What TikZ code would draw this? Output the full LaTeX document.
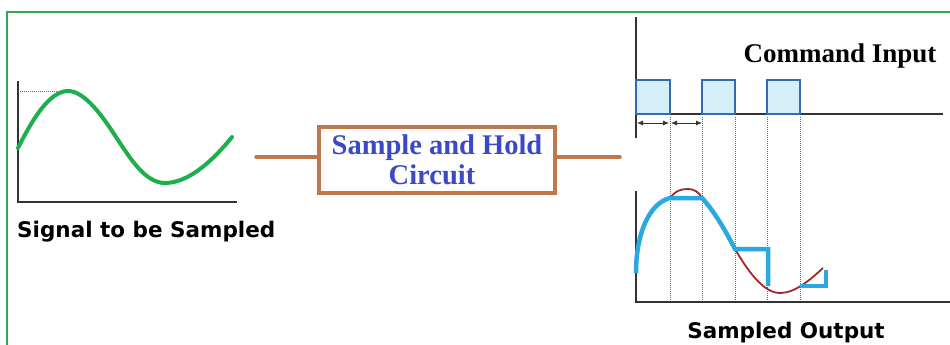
\documentclass[tikz,border=0pt]{standalone}
\usepackage{fontspec}
\newfontfamily\vsans{DejaVu Sans}
\newfontfamily\tserif{Liberation Serif}
\usetikzlibrary{arrows.meta}
\definecolor{framegreen}{HTML}{2FA84F}
\definecolor{sinegreen}{HTML}{1DAF4B}
\definecolor{boxbrown}{HTML}{C0784A}
\definecolor{textblue}{HTML}{3B49C9}
\definecolor{pulseblue}{HTML}{2E6DB4}
\definecolor{pulsefill}{HTML}{D6EEF8}
\definecolor{outblue}{HTML}{2AA9E0}
\definecolor{sinered}{HTML}{A0282A}
\definecolor{axisgray}{HTML}{333333}
\begin{document}
\begin{tikzpicture}[x=1pt,y=-1pt,
  frameline/.style={draw=framegreen,line width=1.2pt},
  axisline/.style={draw=axisgray,line width=2pt},
  guide/.style={draw=gray!80!black,densely dotted,line width=1pt},
  pulsebox/.style={draw=pulseblue,fill=pulsefill,line width=2.8pt},
  spacing/.style={draw=axisgray,line width=0.8pt,{Latex[length=6pt,width=5pt]}-{Latex[length=6pt,width=5pt]}},
  wire/.style={draw=boxbrown,line width=3.5pt},
  shbox/.style={draw=boxbrown,line width=3.5pt,minimum width=236pt,minimum height=66pt,inner sep=0pt,
    align=center,text=textblue,font=\tserif\bfseries\fontsize{28.5}{30}\selectfont},
  lbl/.style={inner sep=0pt,font=\vsans\bfseries\fontsize{21.5}{24}\selectfont},
  serlbl/.style={inner sep=0pt,font=\tserif\bfseries\fontsize{27}{30}\selectfont}]
\useasboundingbox (0,0) rectangle (950,345);
\fill[white] (0,0) rectangle (950,345);
% frame
\draw[frameline] (7,345) -- (7,12) -- (950,12);
% left plot
\draw[axisline] (18,81) -- (18,202) -- (237,202);
\draw[guide] (18,91) -- (68,91);
\draw[sinegreen,line width=4pt,line cap=round]
  (18,148) .. controls (33,118) and (50,91) .. (68,91)
  .. controls (85,91) and (103,117) .. (116,137)
  .. controls (130,158) and (145,183) .. (165,183)
  .. controls (190,183) and (215,158) .. (232,137);
\node[lbl,anchor=base west] (sig) at (17,237) {Signal to be Sampled};
% sample and hold box
\node[shbox] (sh) at (437,160) {Sample and Hold\\Circuit\hspace*{10pt}};
\coordinate (inL) at (256,157);
\coordinate (outR) at (620,157);
\draw[wire,line cap=round] (inL) -- (inL -| sh.west);
\draw[wire,line cap=round] (sh.east |- outR) -- (outR);
% command input plot
\draw[axisline] (636,17) -- (636,138);
\draw[axisline] (636,114) -- (943,114);
\foreach \a/\b in {636/670,702/735,767/800}
  \draw[pulsebox] (\a,114) rectangle (\b,80);
\draw[spacing] (637,123) -- (669,123);
\draw[spacing] (671,123) -- (702,123);
\foreach \x in {670,702,735,767,800}
  \draw[guide] (\x,117) -- (\x,302);
\node[serlbl,anchor=base] (cmd) at (840,63) {Command Input};
% sampled output plot
\draw[axisline] (636,191) -- (636,302) -- (950,302);
\draw[sinered,line width=1.8pt]
  (670,198) .. controls (676,190) and (682,189) .. (688,189)
  .. controls (694,189) and (699,192) .. (702,198)
  .. controls (715,212) and (726,232) .. (735,249)
  .. controls (750,275) and (765,293) .. (780,293)
  .. controls (795,293) and (810,280) .. (823,268);
\draw[outblue,line width=4.5pt]
  (636,273) .. controls (636,232) and (650,203) .. (670,198)
  -- (702,198) .. controls (715,212) and (726,232) .. (735,249)
  -- (768,249) -- (768,286);
\draw[outblue,line width=4.5pt] (800,286) -- (826,286) -- (826,270);
\node[lbl,anchor=base] (out) at (786,338) {Sampled Output};
\end{tikzpicture}
\end{document}
